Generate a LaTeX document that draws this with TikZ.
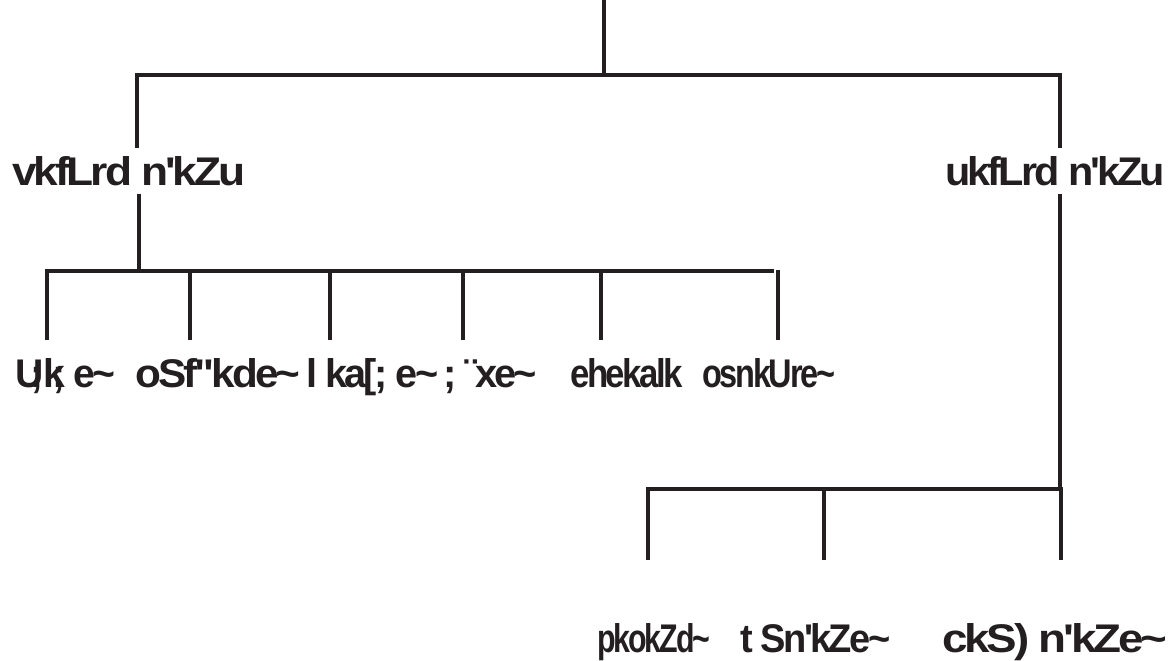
\documentclass[tikz,border=0pt]{standalone}
\usepackage{fontspec}
\usepackage{graphicx}
\newfontfamily\kf{Liberation Sans}[LetterSpace=-7]
\newcommand\kt{\string~}
\definecolor{ink}{RGB}{35,31,32}
\begin{document}
\begin{tikzpicture}[x=1pt,y=-1pt,
  tree/.style={draw=ink,line width=4.5pt,line cap=rect},
  lbl/.style={anchor=base west,inner sep=0pt,text=ink,font=\kf\bfseries\fontsize{40}{42}\selectfont}]
\useasboundingbox (0,0) rectangle (1175,661);
% labels
\newcommand\fit[2]{\resizebox{#1pt}{\height}{#2}}
\node[lbl] (ast) at (12,185) {\fit{233}{vkfLrd n'kZu}};
\node[lbl] (nas) at (945,185) {\fit{220}{ukfLrd n'kZu}};
\node[lbl] (c1) at (15,387) {\fit{100}{U\llap{;}k\llap{;} e\kt}};
\node[lbl] (c2) at (135,387) {\fit{165}{oSf"kde\kt}};
\node[lbl] (c3) at (306,387) {\fit{132}{l ka[; e\kt}};
\node[lbl] (c4) at (443,387) {\fit{94}{; ¨xe\kt}};
\node[lbl] (c5) at (570,387) {\fit{113}{ehekalk}};
\node[lbl] (c6) at (702,387) {\fit{133}{osnkUre\kt}};
\node[lbl] (d1) at (597,652) {\fit{113}{pkokZd\kt}};
\node[lbl] (d2) at (740,652) {\fit{150}{t Sn'kZe\kt}};
\node[lbl] (d3) at (942,652) {\fit{225}{ckS) n'kZe\kt}};
% coordinates
\coordinate (top) at (604,1);
\coordinate (tj) at (604,75);
\coordinate (hl) at (137,75);
\coordinate (hr) at (1060,75);
\coordinate (al) at (137,146);
\coordinate (ar) at (1060,146);
\coordinate (as) at (139,196);
\coordinate (aj) at (139,271);
\coordinate (bl) at (47,271);
\coordinate (br) at (772,271);
\foreach \n/\x in {1/47,2/190,3/330,4/463,5/601}{
  \coordinate (u\n) at (\x,271);
  \coordinate (v\n) at (\x,338);
}
\coordinate (u6) at (778,272);
\coordinate (v6) at (778,338);
\coordinate (ns) at (1060,196);
\coordinate (nj) at (1060,489);
\coordinate (ml) at (648,489);
\foreach \n/\x in {1/648,2/824,3/1061}{
  \coordinate (p\n) at (\x,489);
  \coordinate (q\n) at (\x,558);
}
% tree lines
\draw[tree] (top) -- (tj);
\draw[tree] (al) -- (hl) -- (hr) -- (ar);
\draw[tree] (as) -- (aj);
\draw[tree] (bl) -- (br);
\foreach \n in {1,...,6}{\draw[tree] (u\n) -- (v\n);}
\draw[tree] (ns) -- (nj);
\draw[tree] (ml) -- (nj);
\foreach \n in {1,2,3}{\draw[tree] (p\n) -- (q\n);}
\end{tikzpicture}
\end{document}
